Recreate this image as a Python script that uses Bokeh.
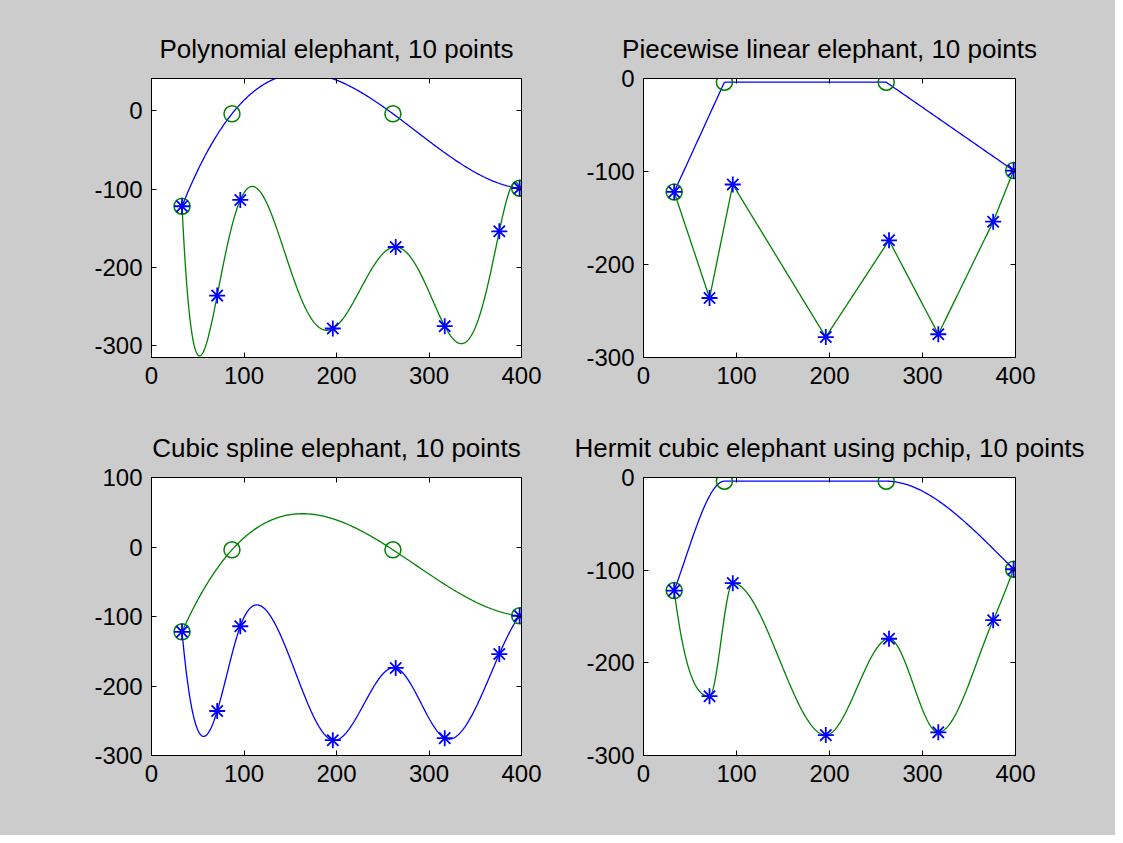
import numpy as np
from bokeh.plotting import figure
from bokeh.layouts import gridplot
from bokeh.models import FixedTicker, LinearAxis
from bokeh.embed import file_html
from bokeh.resources import INLINE

# ---- data ----
upper_x = [33, 87, 261, 398]
upper_y = [-122, -4, -4, -99]
lower_x = [33, 71, 96, 196, 264, 317, 376, 398]
lower_y = [-122, -236, -114, -278, -174, -275, -154, -99]

titles = [
    "Polynomial elephant, 10 points",
    "Piecewise linear elephant, 10 points",
    "Cubic spline elephant, 10 points",
    "Hermit cubic elephant using pchip, 10 points",
]
x_ticks = [0, 100, 200, 300, 400]
y_ticks_poly = [-300, -200, -100, 0]
y_ticks_linear = [-300, -200, -100, 0]
y_ticks_spline = [-300, -200, -100, 0, 100]
y_ticks_pchip = [-300, -200, -100, 0]

BLUE = "#0000ff"
GREEN = "#008000"
BG = "#cccccc"
FONT = "Liberation Sans"


# ---- interpolation methods named in the titles ----
def interp_poly(x, y, t):
    P = np.polynomial.Polynomial.fit(np.asarray(x, float), np.asarray(y, float), len(x) - 1)
    return P(t)


def interp_linear(x, y, t):
    return np.interp(t, x, y)


def interp_spline(x, y, t):
    # not-a-knot cubic spline (like MATLAB spline)
    x = np.asarray(x, float)
    y = np.asarray(y, float)
    n = len(x)
    m = n - 1
    A = np.zeros((4 * m, 4 * m))
    b = np.zeros(4 * m)
    r = 0
    for i in range(m):
        h = x[i + 1] - x[i]
        A[r, 4 * i] = 1
        b[r] = y[i]
        r += 1
        A[r, 4 * i:4 * i + 4] = [1, h, h * h, h ** 3]
        b[r] = y[i + 1]
        r += 1
    for i in range(m - 1):
        h = x[i + 1] - x[i]
        A[r, 4 * i:4 * i + 4] = [0, 1, 2 * h, 3 * h * h]
        A[r, 4 * (i + 1) + 1] = -1
        r += 1
        A[r, 4 * i:4 * i + 4] = [0, 0, 2, 6 * h]
        A[r, 4 * (i + 1) + 2] = -2
        r += 1
    A[r, 3] = 1
    A[r, 7] = -1
    r += 1
    A[r, 4 * (m - 2) + 3] = 1
    A[r, 4 * (m - 1) + 3] = -1
    coef = np.linalg.solve(A, b).reshape(m, 4)
    idx = np.clip(np.searchsorted(x, t, side="right") - 1, 0, m - 1)
    s = t - x[idx]
    c = coef[idx]
    return c[:, 0] + c[:, 1] * s + c[:, 2] * s ** 2 + c[:, 3] * s ** 3


def interp_pchip(x, y, t):
    x = np.asarray(x, float)
    y = np.asarray(y, float)
    n = len(x)
    h = np.diff(x)
    dl = np.diff(y) / h
    d = np.zeros(n)
    for k in range(1, n - 1):
        if dl[k - 1] * dl[k] > 0:
            w1 = 2 * h[k] + h[k - 1]
            w2 = h[k] + 2 * h[k - 1]
            d[k] = (w1 + w2) / (w1 / dl[k - 1] + w2 / dl[k])

    def end(h0, h1, d0, d1):
        dd = ((2 * h0 + h1) * d0 - h0 * d1) / (h0 + h1)
        if np.sign(dd) != np.sign(d0):
            dd = 0.0
        elif np.sign(d0) != np.sign(d1) and abs(dd) > abs(3 * d0):
            dd = 3 * d0
        return dd

    d[0] = end(h[0], h[1], dl[0], dl[1])
    d[-1] = end(h[-1], h[-2], dl[-1], dl[-2])
    idx = np.clip(np.searchsorted(x, t, side="right") - 1, 0, n - 2)
    hh = h[idx]
    u = (t - x[idx]) / hh
    h00 = 2 * u ** 3 - 3 * u ** 2 + 1
    h10 = u ** 3 - 2 * u ** 2 + u
    h01 = -2 * u ** 3 + 3 * u ** 2
    h11 = u ** 3 - u ** 2
    return h00 * y[idx] + h10 * hh * d[idx] + h01 * y[idx + 1] + h11 * hh * d[idx + 1]


def style_axis(ax, ticks, show_labels=True):
    ax.ticker = FixedTicker(ticks=ticks)
    ax.axis_line_color = "black"
    ax.axis_line_width = 1
    ax.major_tick_line_color = "black"
    ax.major_tick_in = 5
    ax.major_tick_out = 0
    ax.minor_tick_line_color = None
    ax.major_label_text_font = FONT
    ax.major_label_text_font_size = "24px"
    if show_labels:
        ax.major_label_overrides = {t: str(t) for t in ticks}
        ax.major_label_text_color = "black"
        ax.major_label_standoff = 9
    else:
        ax.major_label_text_color = None
        ax.major_label_standoff = 0


def make_panel(title, method, yr, yticks, upper_color, lower_color,
               width, height, bl, br, bt, bb):
    p = figure(width=width, height=height, x_range=(0, 400), y_range=yr,
               output_backend="svg", toolbar_location=None,
               min_border_left=bl, min_border_right=br,
               min_border_top=bt, min_border_bottom=bb)
    p.background_fill_color = "white"
    p.border_fill_color = BG
    p.outline_line_color = "black"
    p.grid.visible = False
    p.title.text = title
    p.title.align = "center"
    p.title.text_font = FONT
    p.title.text_font_size = "26px"
    p.title.text_font_style = "normal"
    p.title.text_color = "black"
    p.title.standoff = 29

    style_axis(p.xaxis[0], x_ticks)
    style_axis(p.yaxis[0], yticks)
    top = LinearAxis()
    style_axis(top, x_ticks, show_labels=False)
    right = LinearAxis()
    style_axis(right, yticks, show_labels=False)
    p.add_layout(top, "above")
    p.add_layout(right, "right")

    tu = np.linspace(upper_x[0], upper_x[-1], 300)
    tl = np.linspace(lower_x[0], lower_x[-1], 400)
    p.line(tu, method(upper_x, upper_y, tu), line_color=upper_color, line_width=1.3)
    p.line(tl, method(lower_x, lower_y, tl), line_color=lower_color, line_width=1.3)
    p.scatter(upper_x, upper_y, marker="circle", size=16, fill_color=None,
              line_color=GREEN, line_width=1.5)
    p.scatter(lower_x, lower_y, marker="asterisk", size=16,
              line_color=BLUE, line_width=1.8)
    return p


W1, W2 = 560, 555
H1, H2 = 416, 419

p1 = make_panel(titles[0], interp_poly, (-315, 41), y_ticks_poly, BLUE, GREEN,
                W1, H1, 151, 39, 78, 59)
p2 = make_panel(titles[1], interp_linear, (-300, 0), y_ticks_linear, BLUE, GREEN,
                W2, H1, 83, 100, 78, 59)
p3 = make_panel(titles[2], interp_spline, (-300, 100), y_ticks_spline, GREEN, BLUE,
                W1, H2, 151, 39, 60, 80)
p4 = make_panel(titles[3], interp_pchip, (-300, 0), y_ticks_pchip, BLUE, GREEN,
                W2, H2, 83, 100, 60, 80)

layout = gridplot([[p1, p2], [p3, p4]], toolbar_location=None)
layout.styles = {"background-color": BG}

open("out.html", "w").write(file_html(layout, INLINE))
